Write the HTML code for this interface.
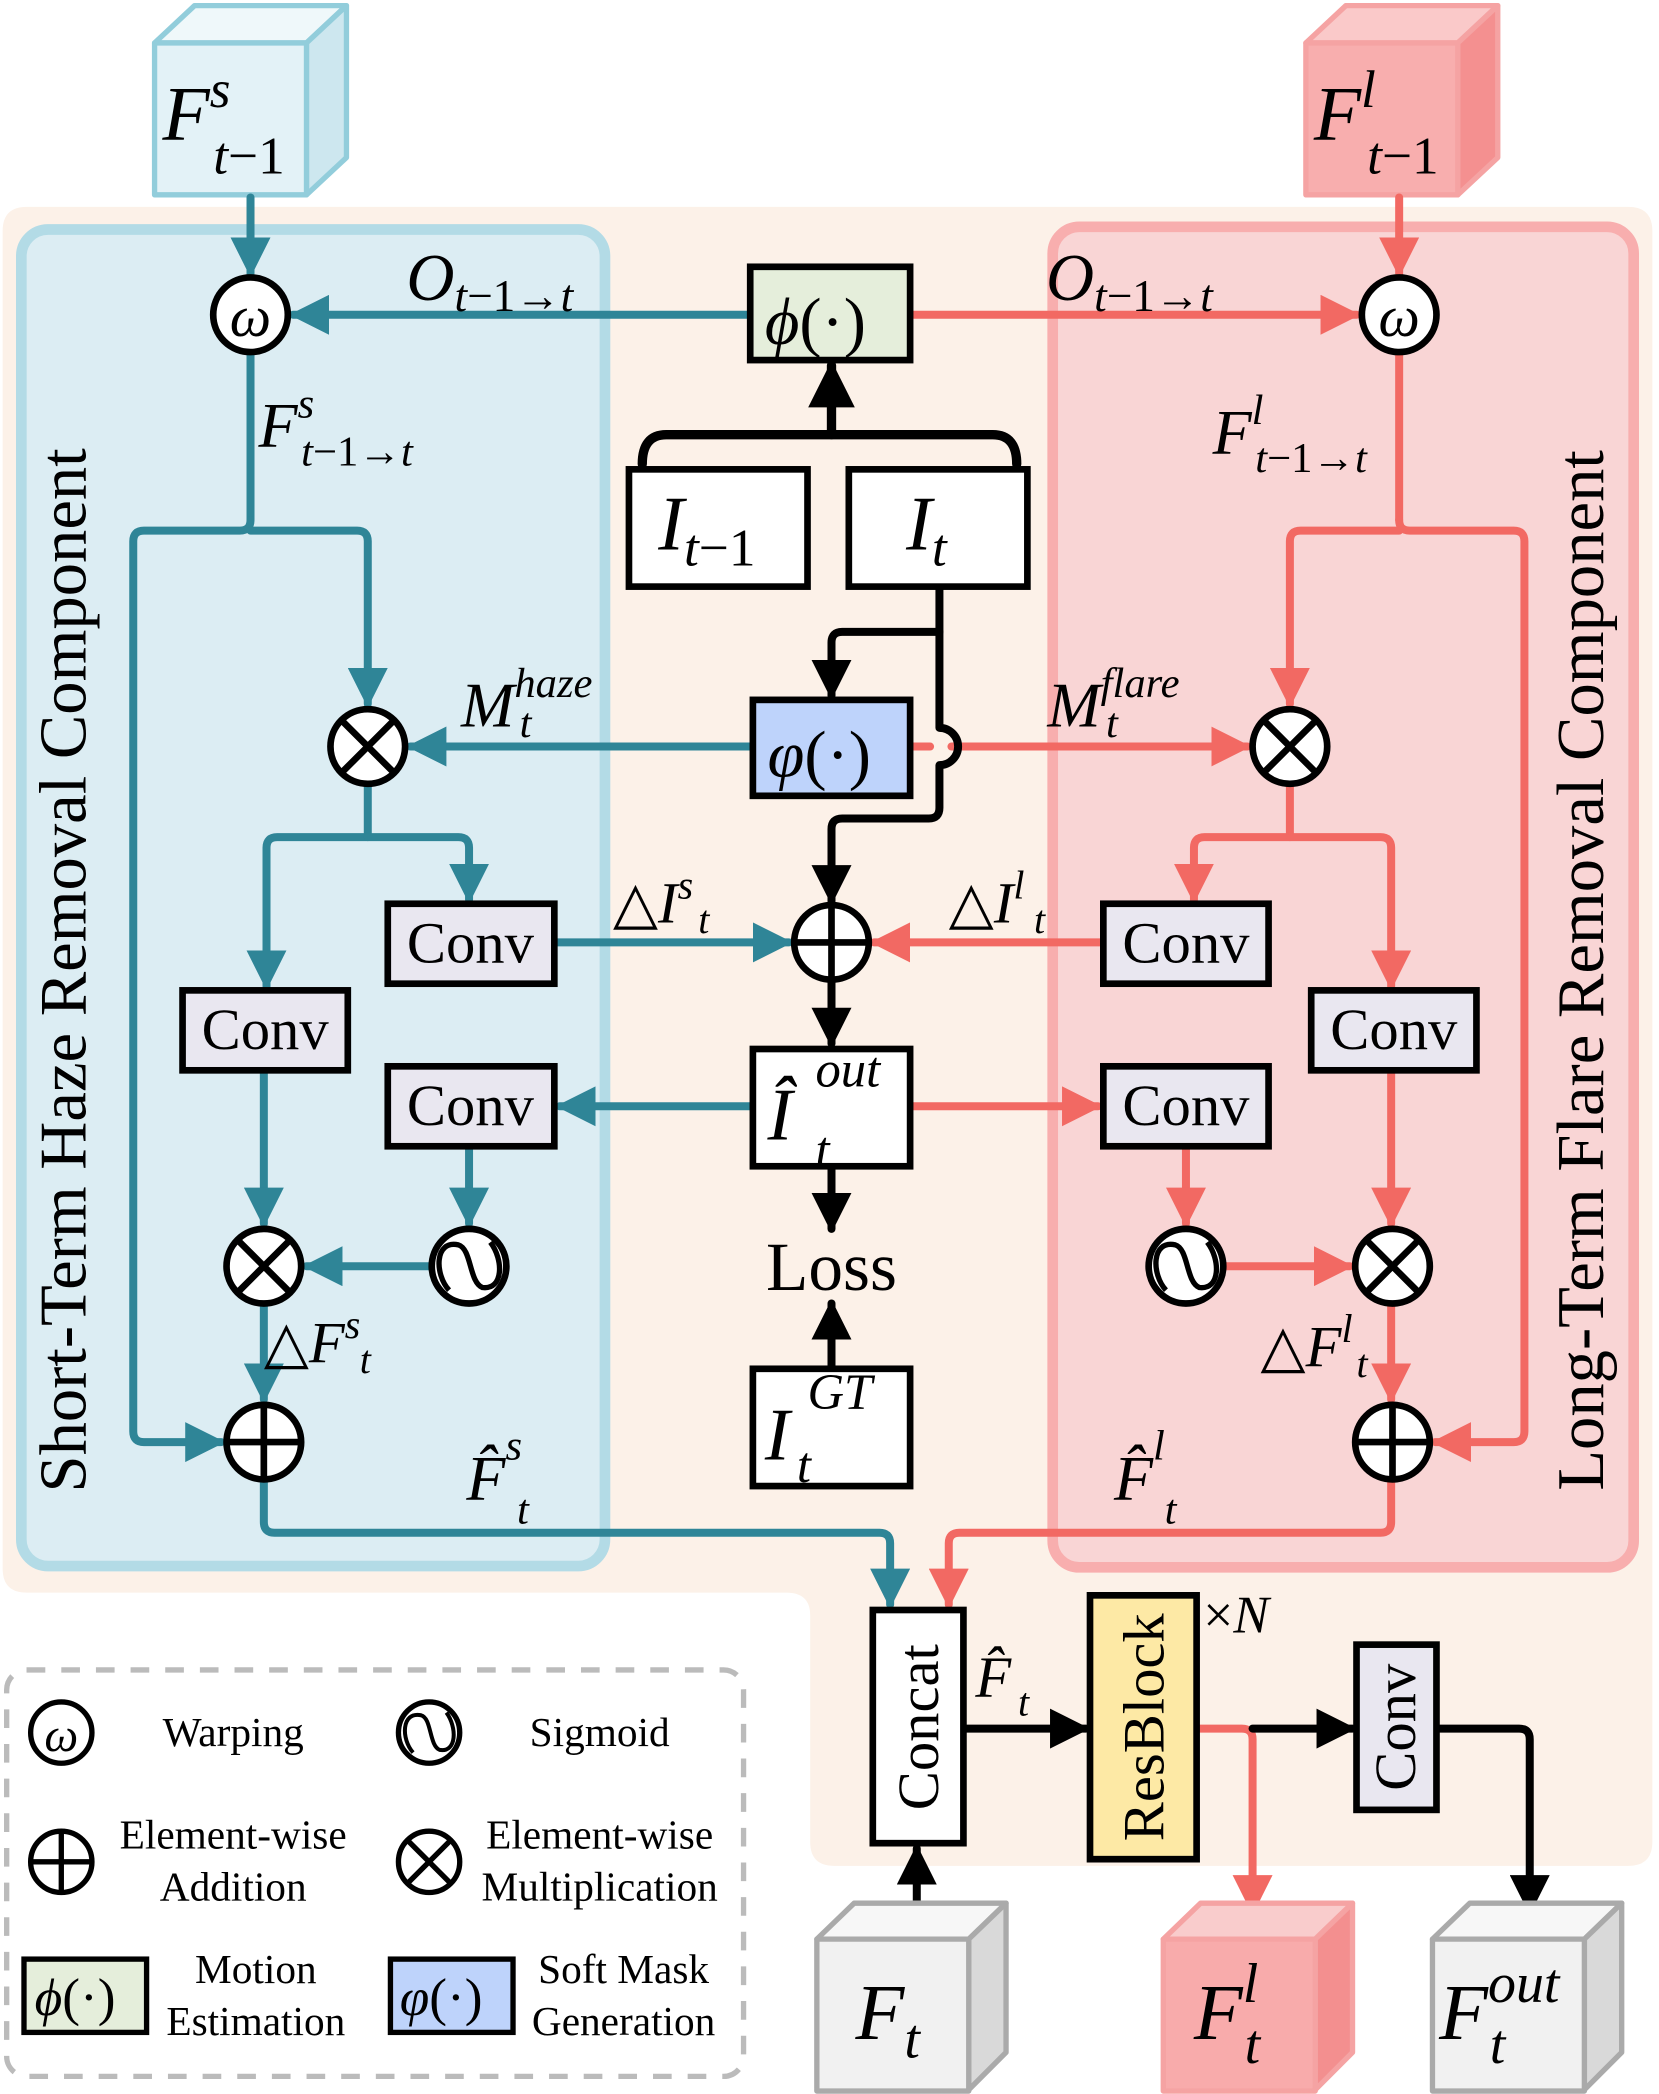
<!DOCTYPE html>
<html><head><meta charset="utf-8"><style>
html,body{margin:0;padding:0;background:#fff;}
svg{display:block;}
text{font-family:"Liberation Serif",serif;}
.m{font-style:italic;}
</style></head><body>
<svg width="1659" height="2094" viewBox="0 0 1245 1571" xmlns="http://www.w3.org/2000/svg">
<defs>
<marker id="at" viewBox="0 0 10 10" refX="9" refY="5" markerWidth="5" markerHeight="5" orient="auto" markerUnits="strokeWidth"><path d="M0,0L10,5L0,10z" fill="#2f8597"/></marker>
<marker id="ar" viewBox="0 0 10 10" refX="9" refY="5" markerWidth="5" markerHeight="5" orient="auto" markerUnits="strokeWidth"><path d="M0,0L10,5L0,10z" fill="#f26963"/></marker>
<marker id="ak" viewBox="0 0 10 10" refX="9" refY="5" markerWidth="5" markerHeight="5" orient="auto" markerUnits="strokeWidth"><path d="M0,0L10,5L0,10z" fill="#000"/></marker>
</defs>
<path d="M20,155 H1222 Q1240,155 1240,173 V1382 Q1240,1400 1222,1400 H626 Q608,1400 608,1382 V1212 Q608,1195 590,1195 H20 Q2,1195 2,1177 V173 Q2,155 20,155Z" fill="#fcf1e8"/>
<rect x="16" y="172" width="438" height="1003" rx="20" fill="#dcedf3" stroke="#b3dbe6" stroke-width="8"/>
<rect x="790" y="170" width="436" height="1006" rx="20" fill="#f9d5d5" stroke="#f8aeae" stroke-width="8"/>
<text transform="translate(64,728) rotate(-90)" font-size="50" text-anchor="middle">Short-Term Haze Removal Component</text>
<text transform="translate(1203,728) rotate(-90)" font-size="50" text-anchor="middle">Long-Term Flare Removal Component</text>

<g stroke-width="4" stroke-linejoin="round">
<path d="M116,32 L146,4 H260 L230,32Z" fill="#eff8fa" stroke="#92cddb"/>
<path d="M230,32 L260,4 V118 L230,146Z" fill="#cde7ef" stroke="#92cddb"/>
<rect x="116" y="32" width="114" height="114" fill="#e3f2f7" stroke="#92cddb"/>
<path d="M980,32 L1010,4 H1124 L1094,32Z" fill="#fac9c9" stroke="#f5a3a3"/>
<path d="M1094,32 L1124,4 V118 L1094,146Z" fill="#f49090" stroke="#f5a3a3"/>
<rect x="980" y="32" width="114" height="114" fill="#f8aeae" stroke="#f5a3a3"/>
</g>
<text x="122" y="105" font-size="58" class="m">F<tspan font-size="40" dy="-25">s</tspan><tspan font-size="40" x="160" dy="50">t</tspan><tspan font-size="40" font-style="normal">−1</tspan></text>
<text x="986" y="105" font-size="58" class="m">F<tspan font-size="40" dy="-25">l</tspan><tspan font-size="40" x="1026" dy="50">t</tspan><tspan font-size="40" font-style="normal">−1</tspan></text>

<g fill="none" stroke="#2f8597" stroke-width="6" stroke-linejoin="round" stroke-linecap="round">
<path d="M188,148 V205" marker-end="url(#at)"/>
<path d="M563,236 H220" marker-end="url(#at)"/>
<path d="M188,264 V390"/>
<path d="M188,390 Q188,398 180,398 H108 Q100,398 100,406 V1074 Q100,1082 108,1082 H166" marker-end="url(#at)"/>
<path d="M188,398 H268 Q276,398 276,406 V528" marker-end="url(#at)"/>
<path d="M565,560 H308" marker-end="url(#at)"/>
<path d="M276,588 V628 H208 Q200,628 200,636 V740" marker-end="url(#at)"/>
<path d="M276,628 H344 Q352,628 352,636 V675" marker-end="url(#at)"/>
<path d="M416,707 H592" marker-end="url(#at)"/>
<path d="M198,803 V918" marker-end="url(#at)"/>
<path d="M565,830 H420" marker-end="url(#at)"/>
<path d="M352,860 V918" marker-end="url(#at)"/>
<path d="M324,950 H230" marker-end="url(#at)"/>
<path d="M198,978 V1050" marker-end="url(#at)"/>
<path d="M198,1110 V1142 Q198,1150 206,1150 H660 Q668,1150 668,1158 V1204" marker-end="url(#at)"/>
</g>
<g fill="none" stroke="#f26963" stroke-width="6" stroke-linejoin="round" stroke-linecap="round">
<path d="M1050,148 V205" marker-end="url(#ar)"/>
<path d="M683,236 H1018" marker-end="url(#ar)"/>
<path d="M1050,264 V390"/>
<path d="M1050,390 Q1050,398 1058,398 H1136 Q1144,398 1144,406 V1074 Q1144,1082 1136,1082 H1077" marker-end="url(#ar)"/>
<path d="M1050,398 H976 Q968,398 968,406 V528" marker-end="url(#ar)"/>
<path d="M683,560 H698"/>
<path d="M714,560 H936" marker-end="url(#ar)"/>
<path d="M968,588 V628 H904 Q896,628 896,636 V675" marker-end="url(#ar)"/>
<path d="M968,628 H1036 Q1044,628 1044,636 V740" marker-end="url(#ar)"/>
<path d="M828,707 H656" marker-end="url(#ar)"/>
<path d="M683,830 H824" marker-end="url(#ar)"/>
<path d="M890,860 V918" marker-end="url(#ar)"/>
<path d="M1044,803 V918" marker-end="url(#ar)"/>
<path d="M918,950 H1013" marker-end="url(#ar)"/>
<path d="M1044,978 V1050" marker-end="url(#ar)"/>
<path d="M1044,1110 V1142 Q1044,1150 1036,1150 H720 Q712,1150 712,1158 V1204" marker-end="url(#ar)"/>
<path d="M898,1297 H932 Q940,1297 940,1305 V1434" marker-end="url(#ar)"/>
</g>
<g fill="none" stroke="#000" stroke-width="6" stroke-linejoin="round" stroke-linecap="round">
<path d="M482,348 Q482,326 500,326 H745 Q763,326 763,348" stroke-width="7"/>
<path d="M624,326 V274" marker-end="url(#ak)" stroke-width="7"/>
<path d="M705,440 V474 H632 Q624,474 624,482 V522" marker-end="url(#ak)"/>
<path d="M705,474 V546 A14,14 0 0 1 705,574 V606 Q705,614 697,614 H632 Q624,614 624,622 V676" marker-end="url(#ak)"/>
<path d="M624,735 V783" marker-end="url(#ak)"/>
<path d="M624,875 V922" marker-end="url(#ak)"/>
<path d="M624,1027 V978" marker-end="url(#ak)"/>
<path d="M723,1297 H815" marker-end="url(#ak)"/>
<path d="M940,1297 H1015" marker-end="url(#ak)"/>
<path d="M1078,1297 H1140 Q1148,1297 1148,1305 V1434" marker-end="url(#ak)"/>
<path d="M688,1436 V1387" marker-end="url(#ak)"/>
</g>

<g stroke="#000" stroke-width="5">
<rect x="563" y="200" width="120" height="70" fill="#e5eedb"/>
<rect x="472" y="352" width="134" height="88" fill="#fff"/>
<rect x="637" y="352" width="134" height="88" fill="#fff"/>
<rect x="565" y="525" width="118" height="72" fill="#bed3fb"/>
<rect x="565" y="787" width="118" height="88" fill="#fff"/>
<rect x="565" y="1027" width="118" height="88" fill="#fff"/>
<rect x="291" y="678" width="125" height="60" fill="#e9e7f0"/>
<rect x="137" y="743" width="124" height="60" fill="#e9e7f0"/>
<rect x="291" y="800" width="125" height="60" fill="#e9e7f0"/>
<rect x="828" y="678" width="124" height="60" fill="#e9e7f0"/>
<rect x="984" y="743" width="124" height="60" fill="#e9e7f0"/>
<rect x="828" y="800" width="124" height="60" fill="#e9e7f0"/>
<rect x="655" y="1208" width="68" height="175" fill="#fff"/>
<rect x="818" y="1197" width="80" height="198" fill="#fde9a5"/>
<rect x="1018" y="1234" width="60" height="124" fill="#e9e7f0"/>
</g>
<g font-size="44">
<text x="353" y="722" text-anchor="middle">Conv</text>
<text x="199" y="787" text-anchor="middle">Conv</text>
<text x="353" y="844" text-anchor="middle">Conv</text>
<text x="890" y="722" text-anchor="middle">Conv</text>
<text x="1046" y="787" text-anchor="middle">Conv</text>
<text x="890" y="844" text-anchor="middle">Conv</text>
<text x="624" y="968" text-anchor="middle" font-size="52">Loss</text>
<text transform="translate(704,1296) rotate(-90)" text-anchor="middle">Concat</text>
<text transform="translate(873,1296) rotate(-90)" text-anchor="middle">ResBlock</text>
<text transform="translate(1062,1296) rotate(-90)" text-anchor="middle">Conv</text>
</g>
<text x="574" y="258" font-size="50"><tspan class="m">ϕ</tspan>(·)</text>
<text x="576" y="583" font-size="50"><tspan class="m">φ</tspan>(·)</text>
<text x="494" y="412" font-size="58" class="m">I<tspan font-size="40" dy="12">t</tspan><tspan font-size="40" font-style="normal">−1</tspan></text>
<text x="680" y="412" font-size="58" class="m">I<tspan font-size="40" dy="12">t</tspan></text>
<text x="576" y="855" font-size="56" class="m">Î<tspan font-size="38" dy="-40" x="612">out</tspan><tspan font-size="38" x="612" dy="60">t</tspan></text>
<text x="574" y="1095" font-size="56" class="m">I<tspan font-size="38" dy="-38" x="606">GT</tspan><tspan font-size="38" x="598" dy="55">t</tspan></text>

<g stroke="#000" stroke-width="5" fill="#fff">
<circle cx="188" cy="236" r="28"/><circle cx="1050" cy="236" r="28"/>
<circle cx="276" cy="560" r="28"/><circle cx="968" cy="560" r="28"/>
<circle cx="624" cy="707" r="28"/>
<circle cx="198" cy="950" r="28"/><circle cx="1045" cy="950" r="28"/>
<circle cx="352" cy="950" r="28"/><circle cx="890" cy="950" r="28"/>
<circle cx="198" cy="1082" r="28"/><circle cx="1045" cy="1082" r="28"/>
</g>
<g stroke="#000" stroke-width="5" fill="none">
<path d="M256,540 L296,580 M296,540 L256,580"/>
<path d="M948,540 L988,580 M988,540 L948,580"/>
<path d="M178,930 L218,970 M218,930 L178,970"/>
<path d="M1025,930 L1065,970 M1065,930 L1025,970"/>
<path d="M596,707 H652 M624,679 V735"/>
<path d="M170,1082 H226 M198,1054 V1110"/>
<path d="M1017,1082 H1073 M1045,1054 V1110"/>
<path d="M337,968 C326,956 326,930 344,934 C354,937 352,962 362,966 C378,968 378,945 368,932" stroke-width="4"/>
<path d="M875,968 C864,956 864,930 882,934 C892,937 890,962 900,966 C916,968 916,945 906,932" stroke-width="4"/>
</g>
<text x="188" y="252" font-size="44" class="m" text-anchor="middle">ω</text>
<text x="1050" y="252" font-size="44" class="m" text-anchor="middle">ω</text>

<g class="m">
<text x="305" y="225" font-size="50">O<tspan font-size="34" dy="8">t</tspan><tspan font-size="34" font-style="normal">−1→</tspan><tspan font-size="34">t</tspan></text>
<text x="785" y="225" font-size="50">O<tspan font-size="34" dy="8">t</tspan><tspan font-size="34" font-style="normal">−1→</tspan><tspan font-size="34">t</tspan></text>
<text x="194" y="335" font-size="48">F<tspan font-size="32" dy="-22">s</tspan><tspan font-size="32" x="226" dy="36">t</tspan><tspan font-size="32" font-style="normal">−1→</tspan><tspan font-size="32">t</tspan></text>
<text x="910" y="340" font-size="48">F<tspan font-size="32" dy="-22">l</tspan><tspan font-size="32" x="942" dy="36">t</tspan><tspan font-size="32" font-style="normal">−1→</tspan><tspan font-size="32">t</tspan></text>
<text x="346" y="545" font-size="48">M<tspan font-size="32" dy="-22">haze</tspan><tspan font-size="32" x="390" dy="30">t</tspan></text>
<text x="786" y="545" font-size="48">M<tspan font-size="32" dy="-22">flare</tspan><tspan font-size="32" x="830" dy="30">t</tspan></text>
<text x="460" y="692" font-size="44"><tspan font-style="normal">△</tspan>I<tspan font-size="30" dy="-18">s</tspan><tspan font-size="30" x="524" dy="26">t</tspan></text>
<text x="712" y="692" font-size="44"><tspan font-style="normal">△</tspan>I<tspan font-size="30" dy="-18">l</tspan><tspan font-size="30" x="776" dy="26">t</tspan></text>
<text x="198" y="1022" font-size="44"><tspan font-style="normal">△</tspan>F<tspan font-size="30" dy="-18">s</tspan><tspan font-size="30" x="270" dy="26">t</tspan></text>
<text x="946" y="1025" font-size="44"><tspan font-style="normal">△</tspan>F<tspan font-size="30" dy="-18">l</tspan><tspan font-size="30" x="1018" dy="26">t</tspan></text>
<text x="350" y="1125" font-size="48">F̂<tspan font-size="32" dy="-30">s</tspan><tspan font-size="32" x="388" dy="48">t</tspan></text>
<text x="836" y="1125" font-size="48">F̂<tspan font-size="32" dy="-30">l</tspan><tspan font-size="32" x="874" dy="48">t</tspan></text>
<text x="732" y="1273" font-size="44">F̂<tspan font-size="30" x="764" dy="14">t</tspan></text>
<text x="903" y="1225" font-size="40"><tspan font-style="normal">×</tspan>N</text>
</g>

<g stroke-width="4" stroke-linejoin="round">
<path d="M613,1455 L641,1428 H755 L727,1455Z" fill="#f7f7f7" stroke="#aaa"/>
<path d="M727,1455 L755,1428 V1540 L727,1568Z" fill="#d9d9d9" stroke="#aaa"/>
<rect x="613" y="1455" width="114" height="114" fill="#f1f1f1" stroke="#aaa"/>
<path d="M873,1455 L901,1428 H1015 L987,1455Z" fill="#f9cccc" stroke="#f5a3a3"/>
<path d="M987,1455 L1015,1428 V1540 L987,1568Z" fill="#f38f8f" stroke="#f5a3a3"/>
<rect x="873" y="1455" width="114" height="114" fill="#f8abab" stroke="#f5a3a3"/>
<path d="M1075,1455 L1103,1428 H1217 L1189,1455Z" fill="#f7f7f7" stroke="#aaa"/>
<path d="M1189,1455 L1217,1428 V1540 L1189,1568Z" fill="#d9d9d9" stroke="#aaa"/>
<rect x="1075" y="1455" width="114" height="114" fill="#f1f1f1" stroke="#aaa"/>
</g>
<text x="642" y="1530" font-size="60" class="m">F<tspan font-size="42" dy="14">t</tspan></text>
<text x="896" y="1530" font-size="60" class="m">F<tspan font-size="42" dy="-28">l</tspan><tspan font-size="42" x="934" dy="46">t</tspan></text>
<text x="1080" y="1530" font-size="60" class="m">F<tspan font-size="42" dy="-28">out</tspan><tspan font-size="42" x="1118" dy="46">t</tspan></text>

<rect x="5" y="1253" width="553" height="305" rx="15" fill="none" stroke="#bbb" stroke-width="4" stroke-dasharray="14,12"/>
<g stroke="#000" stroke-width="4" fill="#fff">
<circle cx="46" cy="1300" r="23"/>
<circle cx="322" cy="1300" r="23"/>
<circle cx="46" cy="1397" r="23"/>
<circle cx="322" cy="1397" r="23"/>
<rect x="18" y="1470" width="92" height="55" fill="#e5eedb"/>
<rect x="293" y="1470" width="92" height="55" fill="#bed3fb"/>
</g>
<g stroke="#000" stroke-width="4" fill="none">
<path d="M23,1397 H69 M46,1374 V1420"/>
<path d="M306,1381 L338,1413 M338,1381 L306,1413"/>
<path d="M310,1315 C301,1305 301,1284 316,1287 C324,1289 322,1310 330,1313 C343,1315 343,1296 335,1285" stroke-width="3"/>
</g>
<text x="46" y="1314" font-size="36" class="m" text-anchor="middle">ω</text>
<text x="26" y="1512" font-size="40"><tspan class="m">ϕ</tspan>(·)</text>
<text x="300" y="1512" font-size="40"><tspan class="m">φ</tspan>(·)</text>
<g font-size="31" text-anchor="middle">
<text x="175" y="1310">Warping</text>
<text x="450" y="1310">Sigmoid</text>
<text x="175" y="1387">Element-wise</text>
<text x="175" y="1426">Addition</text>
<text x="450" y="1387">Element-wise</text>
<text x="450" y="1426">Multiplication</text>
<text x="192" y="1488">Motion</text>
<text x="192" y="1527">Estimation</text>
<text x="468" y="1488">Soft Mask</text>
<text x="468" y="1527">Generation</text>
</g>
</svg>
</body></html>
